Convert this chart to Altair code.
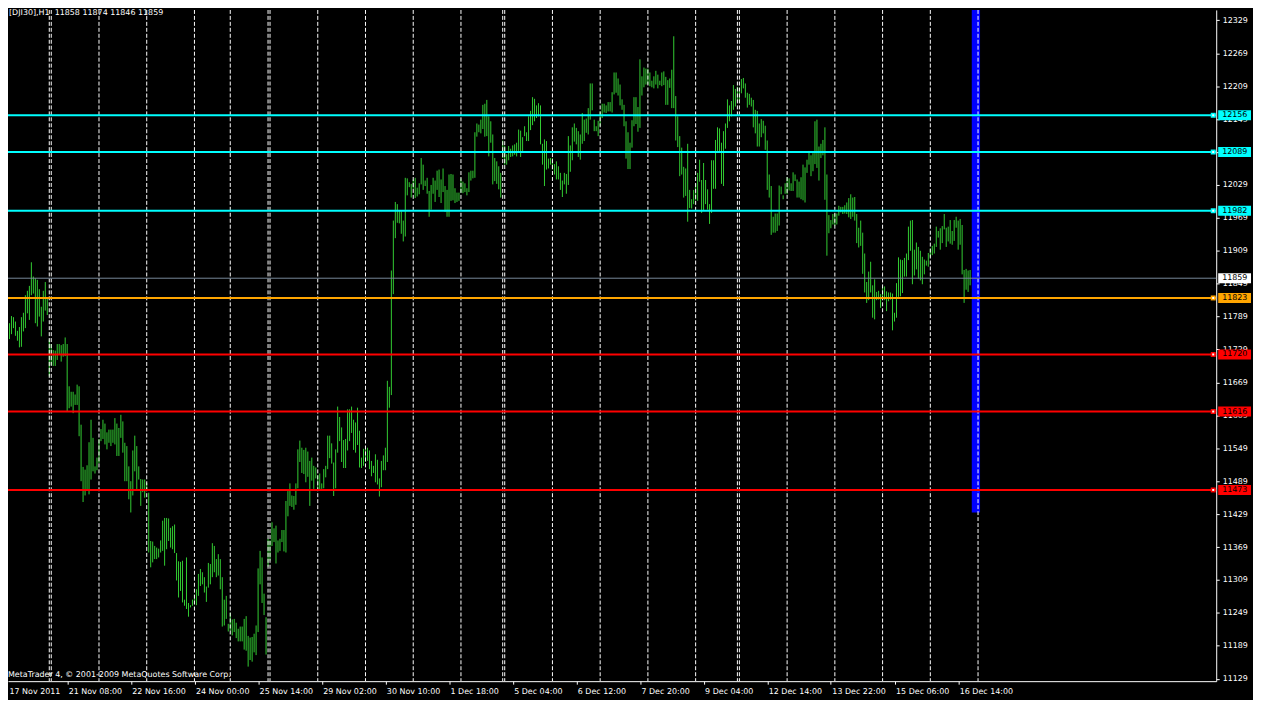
import altair as alt
import pandas as pd

# ---------------- data ----------------
HIGH = [
    11783, 11778, 11772, 11777, 11790, 11788, 11780, 11763, 11770, 11788,
    11796, 11828, 11836, 11845, 11888, 11862, 11859, 11856, 11839, 11807,
    11836, 11852, 11822, 11747, 11739, 11728, 11727, 11739, 11739, 11737,
    11739, 11751, 11739, 11662, 11652, 11652, 11647, 11665, 11662, 11592,
    11515, 11510, 11518, 11560, 11601, 11568, 11516, 11532, 11566, 11584,
    11601, 11594, 11578, 11583, 11583, 11583, 11604, 11594, 11586, 11610,
    11598, 11559, 11553, 11516, 11489, 11545, 11572, 11553, 11516, 11493,
    11492, 11492, 11486, 11468, 11380, 11379, 11371, 11368, 11366, 11381,
    11417, 11422, 11422, 11421, 11404, 11407, 11410, 11358, 11343, 11342,
    11344, 11273, 11350, 11267, 11263, 11273, 11282, 11292, 11320, 11329,
    11323, 11314, 11297, 11340, 11338, 11376, 11371, 11347, 11356, 11347,
    11314, 11273, 11280, 11229, 11249, 11237, 11238, 11231, 11220, 11224,
    11224, 11238, 11243, 11207, 11204, 11205, 11211, 11226, 11330, 11362,
    11350, 11284, 11241, 11384, 11381, 11414, 11403, 11408, 11381, 11384,
    11400, 11400, 11453, 11471, 11485, 11463, 11462, 11485, 11547, 11563,
    11550, 11546, 11550, 11543, 11526, 11532, 11517, 11514, 11500, 11503,
    11485, 11511, 11517, 11572, 11572, 11558, 11523, 11547, 11625, 11606,
    11587, 11564, 11566, 11620, 11620, 11625, 11601, 11596, 11623, 11581,
    11532, 11548, 11550, 11550, 11545, 11526, 11517, 11538, 11528, 11494,
    11526, 11536, 11550, 11672, 11661, 11873, 11964, 11998, 11994, 11982,
    11981, 11964, 12042, 12041, 12034, 12031, 12039, 12042, 12024, 12032,
    12078, 12066, 12037, 12042, 12018, 12029, 12042, 12037, 12055, 12057,
    12039, 12059, 12027, 12020, 12048, 12049, 12048, 12023, 12015, 12015,
    12041, 12035, 12032, 12023, 12052, 12055, 12055, 12125, 12141, 12139,
    12148, 12175, 12177, 12184, 12154, 12145, 12121, 12078, 12072, 12063,
    12051, 12110, 12100, 12085, 12100, 12095, 12101, 12103, 12106, 12130,
    12128, 12116, 12136, 12125, 12154, 12164, 12189, 12186, 12174, 12178,
    12174, 12104, 12112, 12109, 12077, 12078, 12078, 12067, 12072, 12063,
    12051, 12037, 12051, 12049, 12118, 12101, 12134, 12141, 12133, 12127,
    12121, 12160, 12148, 12150, 12169, 12214, 12214, 12148, 12136, 12146,
    12163, 12177, 12177, 12174, 12180, 12180, 12198, 12234, 12234, 12223,
    12212, 12185, 12175, 12145, 12125, 12106, 12147, 12189, 12189, 12171,
    12258, 12227, 12243, 12241, 12241, 12234, 12219, 12227, 12237, 12230,
    12219, 12234, 12236, 12226, 12220, 12223, 12239, 12300, 12191, 12154,
    12118, 12097, 12062, 12059, 12104, 12020, 12003, 12020, 12031, 12051,
    12075, 12038, 12069, 12038, 12021, 11994, 12074, 12074, 12111, 12134,
    12132, 12106, 12127, 12141, 12185, 12174, 12182, 12211, 12204, 12208,
    12206, 12222, 12224, 12214, 12197, 12195, 12188, 12184, 12166, 12164,
    12141, 12149, 12146, 12137, 12110, 12048, 12027, 11971, 11977, 11977,
    12028, 12026, 12010, 12032, 12043, 12041, 12032, 12052, 12048, 12039,
    12035, 12043, 12066, 12061, 12075, 12091, 12083, 12087, 12145, 12148,
    12099, 12104, 12111, 12134, 12048, 11974, 11965, 11976, 11977, 11977,
    11991, 11989, 11989, 11992, 11997, 12005, 12012, 12006, 12007, 11976,
    11951, 11964, 11942, 11904, 11852, 11871, 11889, 11846, 11857, 11834,
    11836, 11830, 11844, 11844, 11835, 11833, 11833, 11831, 11796, 11850,
    11897, 11893, 11892, 11896, 11904, 11953, 11964, 11965, 11911, 11924,
    11916, 11909, 11898, 11893, 11891, 11905, 11913, 11918, 11922, 11953,
    11945, 11950, 11954, 11976, 11951, 11953, 11965, 11945, 11965, 11971,
    11964, 11967, 11956, 11874, 11876, 11873, 11874,
]
LOW = [
    11771, 11737, 11728, 11748, 11757, 11768, 11754, 11745, 11733, 11734,
    11762, 11768, 11795, 11783, 11828, 11831, 11777, 11771, 11789, 11753,
    11780, 11800, 11792, 11680, 11701, 11699, 11699, 11710, 11719, 11707,
    11716, 11717, 11616, 11622, 11625, 11613, 11628, 11628, 11571, 11489,
    11451, 11463, 11473, 11465, 11492, 11507, 11503, 11509, 11522, 11562,
    11566, 11556, 11547, 11559, 11553, 11559, 11556, 11535, 11535, 11568,
    11541, 11489, 11489, 11456, 11432, 11463, 11507, 11474, 11492, 11444,
    11469, 11459, 11471, 11359, 11332, 11341, 11347, 11347, 11350, 11359,
    11362, 11335, 11365, 11380, 11368, 11365, 11358, 11308, 11277, 11289,
    11268, 11262, 11256, 11242, 11259, 11262, 11265, 11263, 11280, 11298,
    11301, 11286, 11269, 11295, 11301, 11314, 11323, 11314, 11317, 11292,
    11224, 11226, 11238, 11215, 11217, 11208, 11214, 11203, 11197, 11197,
    11197, 11182, 11180, 11151, 11163, 11160, 11177, 11172, 11214, 11301,
    11267, 11245, 11173, 11333, 11344, 11371, 11378, 11339, 11359, 11362,
    11378, 11361, 11359, 11425, 11444, 11442, 11437, 11446, 11476, 11524,
    11504, 11502, 11487, 11497, 11444, 11490, 11475, 11494, 11473, 11473,
    11475, 11476, 11496, 11511, 11531, 11521, 11462, 11476, 11541, 11562,
    11524, 11513, 11513, 11545, 11562, 11577, 11546, 11541, 11555, 11514,
    11513, 11517, 11524, 11526, 11511, 11498, 11504, 11487, 11483, 11461,
    11478, 11509, 11509, 11524, 11623, 11646, 11830, 11932, 11960, 11959,
    11940, 11926, 11935, 12010, 12025, 12006, 12022, 12005, 12008, 12012,
    12030, 12020, 12027, 12013, 11971, 11984, 12013, 11998, 12020, 12007,
    11996, 12016, 11980, 11971, 11971, 12000, 12001, 11996, 11998, 12000,
    12015, 12014, 12016, 12010, 12016, 12037, 12041, 12042, 12117, 12125,
    12123, 12131, 12117, 12118, 12081, 12106, 12030, 12036, 12031, 12021,
    12006, 12078, 12066, 12066, 12074, 12080, 12081, 12084, 12081, 12091,
    12080, 12091, 12118, 12109, 12109, 12129, 12138, 12145, 12151, 12154,
    12103, 12066, 12027, 12057, 12059, 12066, 12057, 12048, 12039, 12039,
    12020, 12007, 12030, 12013, 12029, 12053, 12074, 12108, 12103, 12080,
    12075, 12104, 12109, 12124, 12121, 12148, 12165, 12127, 12127, 12118,
    12136, 12151, 12161, 12160, 12163, 12163, 12161, 12194, 12197, 12192,
    12174, 12166, 12136, 12077, 12058, 12058, 12097, 12136, 12140, 12126,
    12133, 12192, 12207, 12212, 12212, 12209, 12207, 12205, 12212, 12205,
    12211, 12209, 12211, 12175, 12175, 12206, 12169, 12169, 12110, 12098,
    12045, 12048, 12006, 12009, 11962, 11987, 11986, 11994, 12001, 12000,
    12035, 11978, 11983, 11994, 11984, 11958, 11978, 12022, 12022, 12091,
    12091, 12031, 12027, 12095, 12133, 12145, 12154, 12166, 12172, 12181,
    12181, 12196, 12205, 12188, 12170, 12175, 12172, 12134, 12123, 12099,
    12099, 12116, 12123, 12093, 12020, 12006, 11938, 11942, 11942, 11945,
    11955, 12012, 12003, 12013, 12012, 12019, 12018, 12018, 12036, 12006,
    12006, 12003, 12001, 11997, 12051, 12066, 12045, 12054, 12067, 12060,
    12037, 12078, 12083, 12002, 11900, 11941, 11950, 11957, 11955, 11957,
    11973, 11979, 11976, 11977, 11976, 11970, 11967, 11971, 11964, 11923,
    11915, 11918, 11867, 11833, 11814, 11819, 11833, 11787, 11784, 11819,
    11820, 11805, 11820, 11819, 11799, 11817, 11820, 11764, 11780, 11787,
    11825, 11826, 11832, 11862, 11862, 11892, 11909, 11848, 11864, 11875,
    11858, 11855, 11848, 11866, 11882, 11880, 11897, 11901, 11904, 11916,
    11933, 11911, 11923, 11948, 11916, 11926, 11922, 11920, 11927, 11951,
    11911, 11920, 11866, 11814, 11838, 11834, 11846,
]

# day separators (bar index)
SEP_IDX = [2, 23, 24, 48, 72, 96, 114, 133, 134, 158, 182, 206, 230, 251, 252,
           276, 300, 324, 348, 369, 370, 394, 418, 442, 466, 490]

TICK_IDX = [0, 32, 64, 96, 128, 160, 192, 224, 256, 288, 320, 352, 384, 416, 448, 480]
TICK_LABELS = ["17 Nov 2011", "21 Nov 08:00", "22 Nov 16:00", "24 Nov 00:00",
               "25 Nov 14:00", "29 Nov 02:00", "30 Nov 10:00", "1 Dec 18:00",
               "5 Dec 04:00", "6 Dec 12:00", "7 Dec 20:00", "9 Dec 04:00",
               "12 Dec 14:00", "13 Dec 22:00", "15 Dec 06:00", "16 Dec 14:00"]

Y_TICKS = [11129, 11189, 11249, 11309, 11369, 11429, 11489, 11549, 11609, 11669,
           11729, 11789, 11849, 11909, 11969, 12029, 12089, 12149, 12209, 12269, 12329]

LEVELS = [12156, 12089, 11982, 11823, 11720, 11616, 11473]
LEVEL_COLORS = ["#00FFFF", "#00FFFF", "#00FFFF", "#FFA500", "#FF0000", "#FF0000", "#FF0000"]
CURRENT = 11859

BAND_X = [486.85, 491.0]
BAND_BOTTOM = 11432

HEADER = "[DJI30],H1\u00a0\u00a011858 11874 11846 11859"
FOOTER = "MetaTrader 4, \u00a9 2001-2009 MetaQuotes Software Corp."

# ---------------- layout ----------------
W, H = 1215, 675
XDOM = [2.25, 609.75]
YDOM = [11124.5, 12348.0]
FONT = "DejaVu Sans"
BAR_COLOR = "#32CD32"

xs = alt.Scale(domain=XDOM, nice=False, zero=False)
ys = alt.Scale(domain=YDOM, nice=False, zero=False)

AX_X = alt.Axis(values=TICK_IDX[1:], labels=False, ticks=True, tickSize=3,
                tickColor="white", domainColor="white", grid=False, title=None)
AX_Y = alt.Axis(orient="right", values=Y_TICKS, format="d", labelOverlap=False,
                labelColor="white", labelFont=FONT, labelFontSize=8,
                tickSize=3, tickColor="white", domainColor="white",
                labelPadding=3, grid=False, title=None)


def X(field):
    return alt.X(field, scale=xs, axis=AX_X)


def Y(field):
    return alt.Y(field, scale=ys, axis=AX_Y)


bars_df = pd.DataFrame({"i": list(range(len(HIGH))), "high": HIGH, "low": LOW})
sep_df = pd.DataFrame({"i": SEP_IDX})
lab_df = pd.DataFrame({"pos": [max(t, XDOM[0]) for t in TICK_IDX], "label": TICK_LABELS})
lev_df = pd.DataFrame({"v": LEVELS, "c": LEVEL_COLORS, "t": [str(v) for v in LEVELS]})
cur_df = pd.DataFrame({"v": [CURRENT], "t": [str(CURRENT)]})
band_df = pd.DataFrame({"x0": [BAND_X[0]], "x1": [BAND_X[1]], "y0": [BAND_BOTTOM]})

band = alt.Chart(band_df).mark_rect(color="#0000FF", clip=True).encode(
    x=X("x0:Q"), x2="x1:Q", y=Y("y0:Q"), y2=alt.value(0),
)

bars = alt.Chart(bars_df).mark_rule(color=BAR_COLOR, strokeWidth=1, clip=True).encode(
    x=X("i:Q"), y=Y("high:Q"), y2="low:Q",
)

seps = alt.Chart(sep_df).mark_rule(color="white", strokeWidth=1, strokeDash=[4, 2], clip=True).encode(
    x=X("i:Q")
)

levels = alt.Chart(lev_df).mark_rule(strokeWidth=2).encode(
    y=Y("v:Q"), color=alt.Color("c:N", scale=None)
)
cur = alt.Chart(cur_df).mark_rule(strokeWidth=1, color="#778899").encode(y=Y("v:Q"))

sq = alt.Chart(lev_df).mark_square(opacity=1, filled=True).encode(
    x=alt.value(W - 3), y=Y("v:Q"), color=alt.Color("c:N", scale=None), size=alt.value(25)
)
sq_in = alt.Chart(lev_df).mark_square(opacity=1, filled=True, color="white").encode(
    x=alt.value(W - 3), y=Y("v:Q"), size=alt.value(4)
)

boxes = alt.Chart(lev_df).mark_tick(thickness=10, opacity=1).encode(
    x=alt.value(W + 18.5), y=Y("v:Q"), color=alt.Color("c:N", scale=None), size=alt.value(33)
)
cur_box = alt.Chart(cur_df).mark_tick(thickness=10, opacity=1, color="white").encode(
    x=alt.value(W + 18.5), y=Y("v:Q"), size=alt.value(33)
)
box_txt = alt.Chart(pd.concat([lev_df[["v", "t"]], cur_df])).mark_text(
    align="left", baseline="middle", font=FONT, fontSize=8, color="black"
).encode(x=alt.value(W + 6), y=Y("v:Q"), text="t:N")

xlabels = alt.Chart(lab_df).mark_text(
    align="left", baseline="alphabetic", font=FONT, fontSize=8, color="white", dx=1.5
).encode(x=X("pos:Q"), y=alt.value(H + 13), text="label:N")

header = alt.Chart(pd.DataFrame({"t": [HEADER]})).mark_text(
    align="left", baseline="alphabetic", font=FONT, fontSize=8, color="white"
).encode(x=alt.value(1), y=alt.value(5), text="t:N")

footer = alt.Chart(pd.DataFrame({"t": [FOOTER]})).mark_text(
    align="left", baseline="alphabetic", font=FONT, fontSize=8, color="white"
).encode(x=alt.value(0), y=alt.value(H - 4), text="t:N")

chart = alt.layer(
    band, bars, seps, levels, cur, sq, sq_in, boxes, cur_box, box_txt, xlabels, header, footer
).properties(
    width=W, height=H, autosize="none",
    padding={"left": 0, "top": 0, "right": 37, "bottom": 17},
).configure(background="black").configure_view(strokeWidth=0).configure_axis(labelOverlap=False)

chart.save("out.html", embed_options={"renderer": "svg", "actions": False})
